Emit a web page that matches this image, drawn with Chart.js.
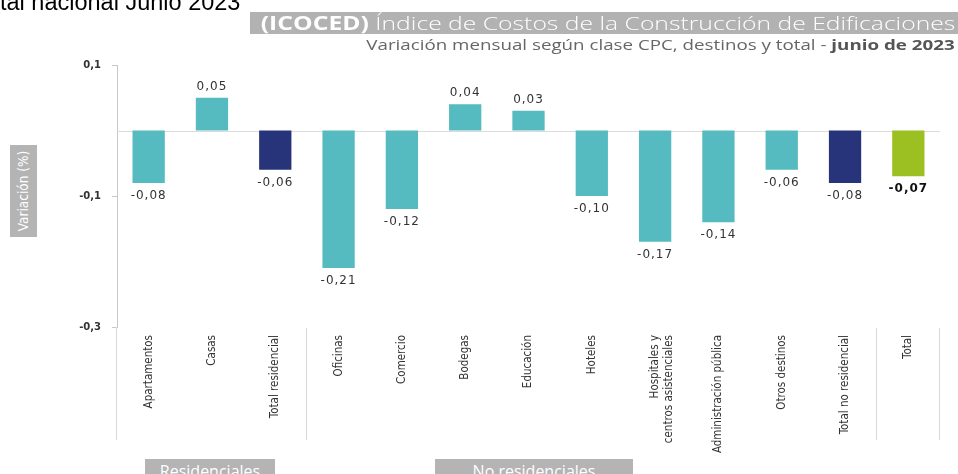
<!DOCTYPE html>
<html><head><meta charset="utf-8">
<script src="https://cdn.jsdelivr.net/npm/chart.js@4.4.0/dist/chart.umd.min.js"></script>
<style>
html,body{margin:0;padding:0;background:#fff;width:958px;height:474px;overflow:hidden;position:relative;font-family:"Open Sans",sans-serif;}
#wrap{position:absolute;left:0;top:0;width:958px;height:474px;}
.abs{position:absolute;white-space:nowrap;}
#top{left:0;top:-9px;font-family:"Liberation Sans",Arial,sans-serif;font-size:23.5px;line-height:23.5px;color:#000;}
#tbox{left:250px;top:12px;width:708px;height:22px;background:#b2b2b2;}
#title{right:3px;top:11px;font-size:19px;line-height:24px;color:#fff;transform:scaleX(1.3);transform-origin:right center;}
#title .l{font-weight:300;}
#sub{right:3px;top:34px;font-size:15px;line-height:20px;color:#666;transform:scaleX(1.25);transform-origin:right center;}
#ytitle{left:10px;top:145px;width:27px;height:92px;background:#b4b4b4;color:#fff;display:flex;align-items:center;justify-content:center;}
#ytitle span{display:block;transform:rotate(-90deg);font-family:"DejaVu Sans Condensed","Liberation Sans Narrow","Roboto",sans-serif;font-size:13.5px;white-space:nowrap;}
.grp{top:459px;height:24px;background:#b4b4b4;color:#fff;font-size:16px;line-height:24px;text-align:center;}
</style></head>
<body>
<div id="wrap"><canvas id="c" width="958" height="474"></canvas></div>
<div class="abs" id="top">tal nacional Junio 2023</div>
<div class="abs" id="tbox"></div>
<div class="abs" id="title"><b>(ICOCED)</b> <span class="l">Índice de Costos de la Construcción de Edificaciones</span></div>
<div class="abs" id="sub">Variación mensual según clase CPC, destinos y total - <b style="color:#555">junio de 2023</b></div>
<div class="abs" id="ytitle"><span>Variación (%)</span></div>
<div class="abs grp" style="left:145px;width:130px;">Residenciales</div>
<div class="abs grp" style="left:435px;width:198px;">No residenciales</div>
<script>
const categories = ["Apartamentos","Casas","Total residencial","Oficinas","Comercio","Bodegas","Educación","Hoteles",["Hospitales y","centros asistenciales"],"Administración pública","Otros destinos","Total no residencial","Total"];
const values = [-0.08,0.05,-0.06,-0.21,-0.12,0.04,0.03,-0.10,-0.17,-0.14,-0.06,-0.08,-0.07];
const barColors = ["#55bbc1","#55bbc1","#28347a","#55bbc1","#55bbc1","#55bbc1","#55bbc1","#55bbc1","#55bbc1","#55bbc1","#55bbc1","#28347a","#9cbf22"];
const yTicks = [-0.3,-0.1,0.1];
const fmt = v => v.toFixed(2).replace('.', ',');
const fmtTick = v => (Math.round(v*10)/10).toFixed(1).replace('.', ',');

const narrow = '"DejaVu Sans Condensed","Liberation Sans Narrow","Roboto",sans-serif';

const extras = {
  id:'extras',
  beforeDatasetsDraw(chart){
    const {ctx, chartArea:a, scales:{y}} = chart;
    const y0 = Math.round(y.getPixelForValue(0))+0.5;
    ctx.save();
    ctx.strokeStyle='#dcdcdc';ctx.lineWidth=1;
    ctx.beginPath();ctx.moveTo(a.left,y0);ctx.lineTo(a.right,y0);ctx.stroke();
    ctx.restore();
  },
  afterDraw(chart){
    const {ctx, chartArea:a, scales:{x}} = chart;
    ctx.save();
    ctx.strokeStyle='#d8d8d8';ctx.lineWidth=1;
    const xs=[a.left, (x.getPixelForValue(2)+x.getPixelForValue(3))/2, (x.getPixelForValue(11)+x.getPixelForValue(12))/2, a.right];
    xs.forEach((px,i)=>{
      const p=Math.round(px)-0.5;
      ctx.beginPath();ctx.moveTo(p,a.bottom+(i===0?0:1));ctx.lineTo(p,440);ctx.stroke();
    });
    const meta = chart.getDatasetMeta(0);
    ctx.textAlign='center';ctx.textBaseline='middle';
    try{ctx.letterSpacing='1px';}catch(e){}
    meta.data.forEach((bar,i)=>{
      const v=values[i];
      const last = i===values.length-1;
      ctx.font=(last?'bold ':'')+'12px "DejaVu Sans",sans-serif';
      ctx.fillStyle=last?'#111':'#333';
      const ty = v<0 ? bar.y+13 : bar.y-11;
      ctx.fillText(fmt(v), bar.x, ty);
    });
    ctx.restore();
  }
};

new Chart(document.getElementById('c'),{
  type:'bar',
  data:{labels:categories,datasets:[{data:values,backgroundColor:barColors,borderWidth:0,categoryPercentage:1,barPercentage:0.51}]},
  options:{
    responsive:false,animation:false,
    layout:{padding:{top:65,right:18,left:0,bottom:0}},
    plugins:{legend:{display:false},tooltip:{enabled:false}},
    scales:{
      y:{
        min:-0.3,max:0.1,
        afterBuildTicks(s){s.ticks=yTicks.map(v=>({value:v}));},
        afterFit(s){s.width=117;},
        border:{display:true,color:'#c8c8c8',width:1},
        grid:{drawOnChartArea:false,tickLength:5,color:'#c8c8c8'},
        ticks:{padding:11,color:'#333',font:{size:10,weight:'bold',family:'"DejaVu Sans",sans-serif'},callback:v=>fmtTick(v)}
      },
      x:{
        afterFit(s){s.height=147;},
        border:{display:false},
        grid:{display:false},
        ticks:{autoSkip:false,maxRotation:90,minRotation:90,padding:0,color:'#333',font:{size:11.5,family:narrow},lineHeight:1.1}
      }
    }
  },
  plugins:[extras]
});
</script>
</body></html>
